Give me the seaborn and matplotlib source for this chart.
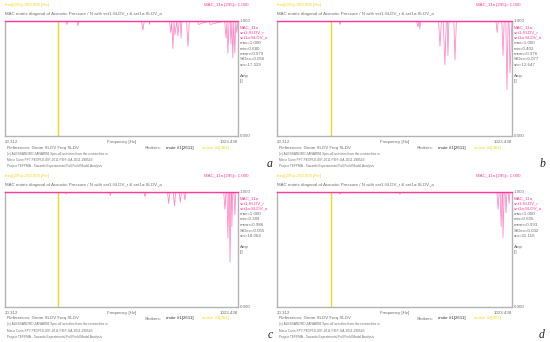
import matplotlib
matplotlib.use("Agg")
import matplotlib.pyplot as plt
import seaborn as sns
import pandas as pd

sns.set_theme(style="white")
plt.rcParams['font.family'] = ['Liberation Sans', 'DejaVu Sans']

# ---- data (frequency breakpoints [Hz] and MAC values) ----
freq_a = [20.312, 280, 287, 294, 330, 334, 338, 608, 614, 620, 640, 643, 646, 728, 734, 738, 743, 748, 752, 760, 765, 770, 775, 778, 782, 802, 808, 814, 850, 853, 900, 903, 966, 972, 976, 980, 985, 990, 993, 997, 1001, 1005, 1010, 1014, 1018, 1023.438]
mac_a =  [1.0,    1.0, 0.97, 1.0, 1.0, 0.96, 1.0, 1.0, 0.92, 1.0, 1.0, 0.97, 1.0, 1.0, 0.90, 1.0, 0.76, 1.0, 0.88, 1.0, 0.87, 1.0, 1.0, 0.85, 1.0, 1.0, 0.78, 1.0, 1.0, 0.97, 1.0, 0.97, 1.0, 0.85, 1.0, 0.72, 1.0, 1.0, 0.80, 1.0, 0.68, 1.0, 0.72, 1.0, 0.90, 1.0]

freq_b = [20.312, 284, 289, 294, 616, 622, 627, 630, 634, 710, 716, 722, 730, 737, 743, 747, 750, 754, 775, 780, 786, 955, 960, 965, 980, 985, 990, 997, 1002, 1007, 1011, 1015, 1023.438]
mac_b =  [1.0,    1.0, 0.97, 1.0, 1.0, 0.95, 1.0, 0.93, 1.0, 1.0, 0.78, 1.0, 1.0, 0.62, 1.0, 1.0, 0.70, 1.0, 1.0, 0.66, 1.0, 1.0, 0.90, 1.0, 1.0, 0.70, 1.0, 1.0, 0.402, 1.0, 1.0, 0.55, 1.0]

freq_c = [20.312, 280, 283, 286, 470, 474, 478, 618, 623, 628, 720, 725, 730, 745, 750, 755, 770, 775, 780, 790, 795, 800, 962, 967, 972, 976, 980, 984, 986, 989, 993, 995, 997, 1001, 1006, 1010, 1014, 1023.438]
mac_c =  [1.0,    1.0, 0.98, 1.0, 1.0, 0.97, 1.0, 1.0, 0.96, 1.0, 1.0, 0.90, 1.0, 1.0, 0.88, 1.0, 1.0, 0.91, 1.0, 1.0, 0.93, 1.0, 1.0, 0.85, 1.0, 1.0, 0.60, 1.0, 1.0, 0.389, 1.0, 1.0, 0.70, 1.0, 1.0, 0.80, 1.0, 1.0]

freq_d = [20.312, 285, 289, 293, 540, 545, 550, 959, 964, 969, 973, 977, 981, 983, 985, 990, 994, 998, 1002, 1007, 1011, 1015, 1023.438]
mac_d =  [1.0,    1.0, 0.98, 1.0, 1.0, 0.98, 1.0, 1.0, 0.85, 1.0, 1.0, 0.70, 1.0, 1.0, 0.605, 1.0, 1.0, 0.82, 1.0, 1.0, 0.90, 1.0, 1.0]

stats_a = ["max=1.000", "min=0.680", "mean=0.979", "StDev=0.056", "sm=17.329"]
stats_b = ["max=1.000", "min=0.402", "mean=0.976", "StDev=0.077", "sm=12.647"]
stats_c = ["max=1.000", "min=0.389", "mean=0.986", "StDev=0.055", "sm=18.064"]
stats_d = ["max=1.000", "min=0.605", "mean=0.993", "StDev=0.032", "sm=31.116"]
letters = ["a", "b", "c", "d"]
freq_marker = 250.0
f_min, f_max = 20.312, 1023.438

PINK = "#ff3a9c"
LINE = "#ff86c4"
YEL = "#f7d51d"
GRAY = "#6e6e6e"
FRAME = "#b3b3b3"

W, H = 550, 342
fig = plt.figure(figsize=(5.5, 3.42), dpi=100)


def ftxt(x, y, s, **kw):
    fig.text(x / W, 1 - y / H, s, **kw)


def panel(freq, mac, stats, letter, ox, oy, pw):
    x0, x1 = 5 + ox, 5 + ox + pw
    y0, y1 = 21 + oy, 136 + oy
    ax = fig.add_axes([x0 / W, 1 - y1 / H, (x1 - x0) / W, (y1 - y0) / H])
    df = pd.DataFrame({"Frequency": freq, "MAC": mac})
    sns.lineplot(data=df, x="Frequency", y="MAC", ax=ax, color=LINE, lw=0.55)
    ax.axhline(1.0, color=PINK, lw=1.5, zorder=3)
    ax.axvline(freq_marker, color=YEL, lw=1.0)
    ax.set_xlim(f_min, f_max)
    ax.set_ylim(0, 1.0)
    ax.set_xticks([]); ax.set_yticks([])
    ax.set_xlabel(""); ax.set_ylabel("")
    for s in ax.spines.values():
        s.set_color(FRAME); s.set_linewidth(1.0)
    ax.spines["top"].set_color(PINK)
    fs = 3.2
    ftxt(x0, 5 + oy, "freq[295]=250.000 [Hz]", color=YEL, fontsize=fs, va="center")
    ftxt(x0 + 199, 5 + oy, "MAC_11a [295]= 1.000", color=PINK, fontsize=fs, va="center")
    ftxt(x0, 14 + oy, "MAC matrix diagonal of Acoustic Pressure / N with set1:SLDV_r & set1a:SLDV_a",
         color=GRAY, fontsize=fs, va="center")
    rx = x1 + 2
    ftxt(rx, 21 + oy, "1.000", color=GRAY, fontsize=fs, va="center")
    for i, s in enumerate(["MAC_11a", "set1:SLDV_r", "set1a:SLDV_a"]):
        ftxt(rx, 27 + oy + i * 5, s, color=PINK, fontsize=fs, va="center")
    for i, s in enumerate(stats):
        ftxt(rx, 43 + oy + i * 5.5, s, color=GRAY, fontsize=fs, va="center")
    ftxt(rx, 76 + oy, "Amp", color=GRAY, fontsize=fs, va="center")
    ftxt(rx, 81 + oy, "[/]", color=GRAY, fontsize=fs, va="center")
    ftxt(rx, 136 + oy, "0.000", color=GRAY, fontsize=fs, va="center")
    ftxt(x0, 142 + oy, f"{f_min:.3f}", color=GRAY, fontsize=fs, va="center")
    ftxt((x0 + x1) / 2, 142 + oy, "Frequency [Hz]", color=GRAY, fontsize=fs, va="center", ha="center")
    ftxt(x1, 142 + oy, f"{f_max:.3f}", color=GRAY, fontsize=fs, va="center", ha="right")
    ftxt(x0 + 2, 147.5 + oy, "References: Geom SLDV Freq SLDV", color=GRAY, fontsize=fs, va="center")
    ftxt(x0 + 140, 147.5 + oy, "Shakers:", color=GRAY, fontsize=fs, va="center")
    ftxt(x0 + 161, 147.5 + oy, "mute #1[2611]", color="#333333", fontsize=fs, va="center")
    ftxt(x0 + 197, 147.5 + oy, "active #2[301]", color=YEL, fontsize=fs, va="center")
    sm = 2.35
    ftxt(x0 + 2, 153.5 + oy, "(c) ALESSANDRO ZANARINI Spin-off activities from the researches in",
         color=GRAY, fontsize=sm, va="center")
    ftxt(x0 + 2, 160 + oy, "Marie Curie FP7-PEOPLE-IEF-2011 PIEF-GA-2011-298543",
         color=GRAY, fontsize=sm, va="center")
    ftxt(x0 + 2, 166 + oy, "Project TEFFMA - Towards Experimental Full Field Modal Analysis",
         color=GRAY, fontsize=sm, va="center")
    ftxt(x0 + 265, 164 + oy, letter, color="#222222", fontsize=8.5, va="center",
         ha="center", style="italic", family=["Liberation Serif", "DejaVu Serif"])


panel(freq_a, mac_a, stats_a, letters[0], 0, 0, 233)
panel(freq_b, mac_b, stats_b, letters[1], 272, 0, 235)
panel(freq_c, mac_c, stats_c, letters[2], 0, 171, 233)
panel(freq_d, mac_d, stats_d, letters[3], 272, 171, 235)

fig.savefig("out.png", dpi=100, facecolor="white")
